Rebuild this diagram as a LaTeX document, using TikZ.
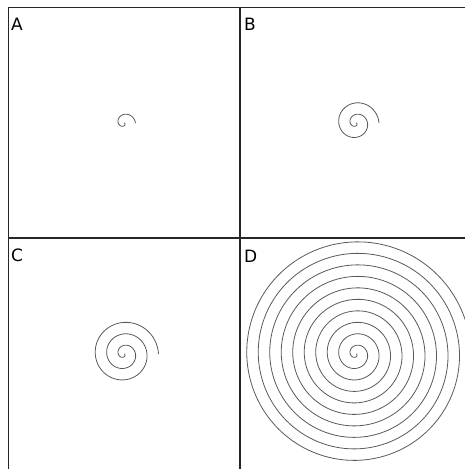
\documentclass[tikz,border=0pt]{standalone}
\usepackage{fontspec}
\setmainfont{DejaVu Sans}
\usepackage{tikz}

\begin{document}
\begin{tikzpicture}[
        x=1pt, y=-1pt,
        every node/.style={font=\fontsize{17}{17}\selectfont, inner sep=0pt},
        panelletter/.style={anchor=base west},
        frameline/.style={draw=black!85, line width=1.6pt},
        divider/.style={draw=black!85, line width=2.6pt},
        spiral/.style={draw=black!65, line width=0.8pt, smooth}
    ]
    \useasboundingbox (0,0) rectangle (465,469);
    \clip (0,0) rectangle (465,469);

    % 1. Spirals, more turns in each panel
    \foreach \cx/\cy/\turns/\name in {124/123/1/A, 356/123/2/B, 124/354/3/C, 356/354/10/D} {
        \coordinate (centre\name) at (\cx,\cy);
        \draw[spiral, shift={(\cx,\cy)}] plot[domain=0:360*\turns, samples=60*\turns, variable=\t]
            ({\t/360*11.5*cos(\t)}, {\t/360*11.5*sin(\t)});
    }

    % 2. Panel letters
    \node[panelletter] (labelA) at (11,30) {A};
    \node[panelletter] (labelB) at (244,30) {B};
    \node[panelletter] (labelC) at (11,261) {C};
    \node[panelletter] (labelD) at (244,262) {D};

    % 3. Frame and dividers
    \draw[frameline] (8,7.5) -- (465,7.5);
    \draw[frameline] (8.5,7) -- (8.5,469);
    \draw[divider] (240,7) -- (240,469);
    \draw[divider] (8,238) -- (465,238);

\end{tikzpicture}
\end{document}
